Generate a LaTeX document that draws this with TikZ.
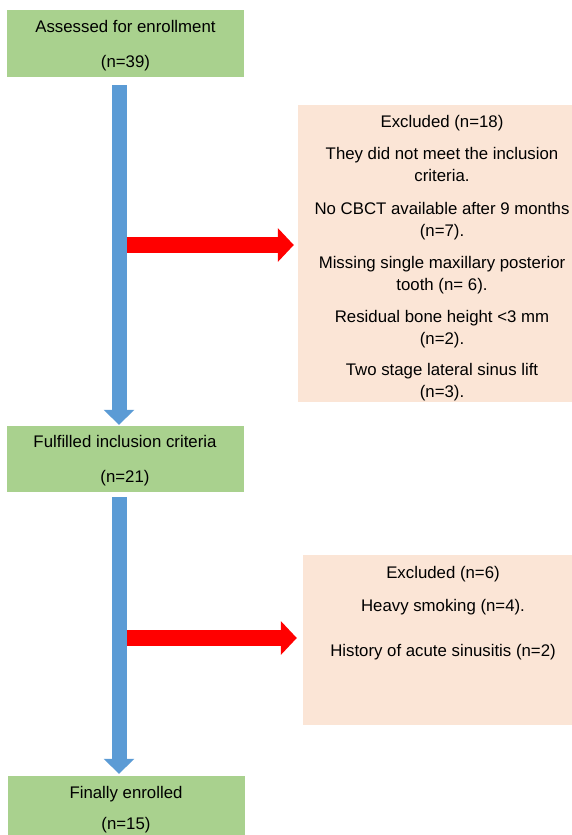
\documentclass[tikz,border=0pt]{standalone}
\usepackage{fontspec}
\setmainfont{Liberation Sans}
\usetikzlibrary{arrows.meta}
\definecolor{boxgreen}{HTML}{A9D18E}
\definecolor{flowblue}{HTML}{5B9BD5}
\definecolor{expeach}{HTML}{FBE5D6}
\begin{document}
\begin{tikzpicture}[
        x=1pt, y=-1pt,
        stagebox/.style={fill=boxgreen, draw=none, minimum width=237pt, inner sep=0pt},
        exbox/.style={fill=expeach, draw=none, inner sep=0pt},
        boxtext/.style={align=center, font=\fontsize{16.8}{22}\selectfont, inner sep=0pt},
        downarrow/.style={draw=flowblue, line width=15pt, line cap=butt,
            -{Triangle[length=15pt, width=30pt]}},
        sidearrow/.style={draw=red, line width=16pt, line cap=butt,
            -{Triangle[length=16pt, width=33pt]}}
    ]
    \useasboundingbox (0,0) rectangle (572,835);
    \clip (0,0) rectangle (572,835);

    % Stufen (gruen)
    \node[stagebox, minimum height=67pt] (assessed) at (125.5,43.5) {};
    \node[boxtext] at ([yshift=-2pt]assessed.center) {Assessed for enrollment\\[13pt](n=39)};

    \node[stagebox, minimum height=66pt] (fulfilled) at (125,459) {};
    \node[boxtext] at ([yshift=-2pt]fulfilled.center) {Fulfilled inclusion criteria\\[13pt](n=21)};

    \node[stagebox, minimum height=65pt] (enrolled) at (126,808.5) {};
    \node[boxtext] at ([yshift=-1pt]enrolled.center) {Finally enrolled\\[9pt](n=15)};

    % Ausschluesse (rosa)
    \node[exbox, minimum width=274pt, minimum height=297pt] (excl1) at (435,253.5) {};
    \node[boxtext] at (442,258.5) {Excluded (n=18)\\[10pt]
        They did not meet the inclusion\\criteria.\\[11pt]
        No CBCT available after 9 months\\(n=7).\\[10pt]
        Missing single maxillary posterior\\tooth (n= 6).\\[10pt]
        Residual bone height <3 mm\\(n=2).\\[9pt]
        Two stage lateral sinus lift\\(n=3).};

    \node[exbox, minimum width=269pt, minimum height=170pt] (excl2) at (437.5,640) {};
    \node[boxtext, anchor=north] at (443,566) {Excluded (n=6)\\[11pt]
        Heavy smoking (n=4).\\[23pt]
        History of acute sinusitis (n=2)};

    % Pfeile nach unten
    \draw[downarrow] ([xshift=-6.5pt, yshift=-8pt]assessed.south) -- ([xshift=-6pt, yshift=1pt]fulfilled.north);
    \draw[downarrow] ([xshift=-6pt, yshift=-5pt]fulfilled.south) -- ([xshift=-7pt, yshift=2pt]enrolled.north);

    % Pfeile zu den Ausschluessen
    \coordinate (branch1) at (126.5,245);
    \coordinate (branch2) at (126.5,638);
    \draw[sidearrow] (branch1) -- ([xshift=-4pt]branch1 -| excl1.west);
    \draw[sidearrow] (branch2) -- ([xshift=-6pt]branch2 -| excl2.west);
\end{tikzpicture}
\end{document}
